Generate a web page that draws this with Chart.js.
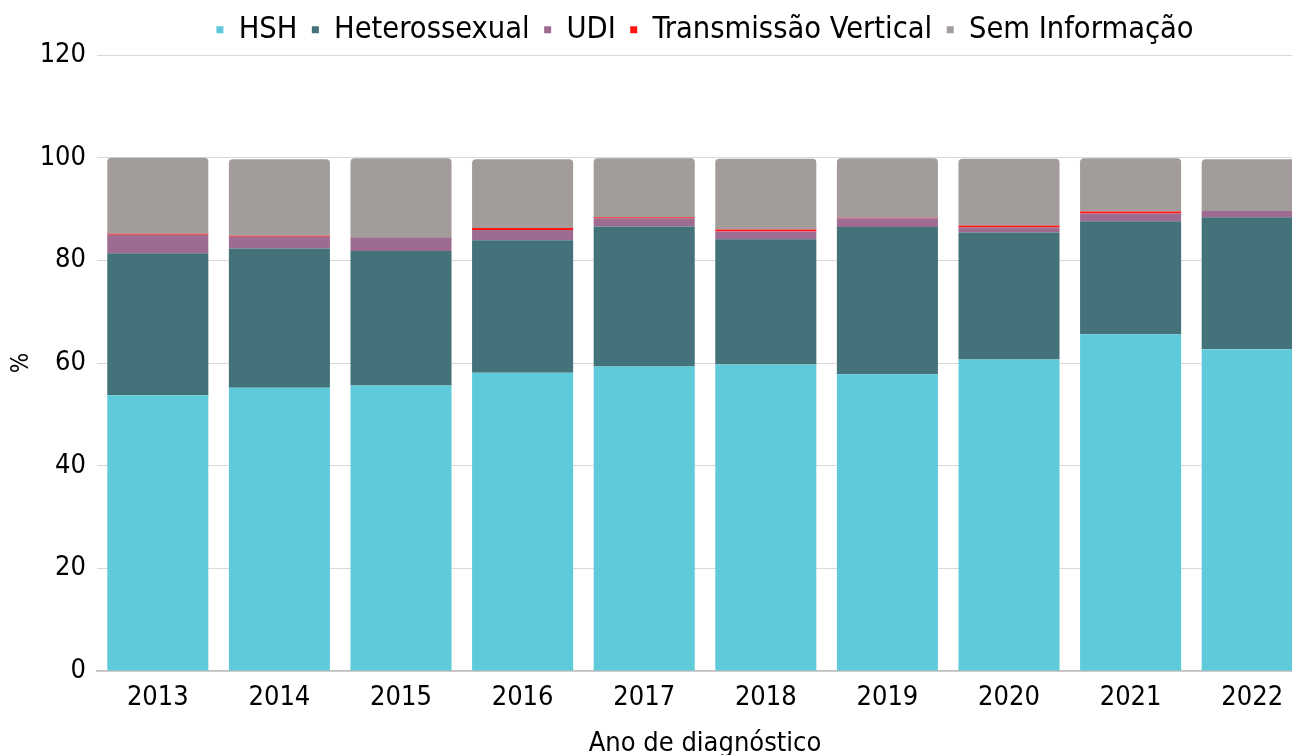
<!DOCTYPE html>
<html>
<head>
<meta charset="utf-8">
<script src="https://cdn.jsdelivr.net/npm/chart.js@4"></script>
<style>
  html, body { margin: 0; padding: 0; background: #fff; overflow: hidden; }
  #wrap { position: relative; width: 1320px; height: 755px; }
</style>
</head>
<body>
<div id="wrap"><canvas id="chart"></canvas></div>
<script>
const years = ["2013", "2014", "2015", "2016", "2017", "2018", "2019", "2020", "2021", "2022"];
const hsh = [53.7, 55.2, 55.6, 58.1, 59.3, 59.7, 57.8, 60.7, 65.6, 62.7];
const hetero = [27.7, 27.1, 26.2, 25.8, 27.3, 24.4, 28.7, 24.7, 22.0, 25.7];
const udi = [3.6, 2.3, 2.7, 2.0, 1.6, 1.5, 1.7, 1.0, 1.5, 1.2];
const vertical = [0.2, 0.2, 0, 0.4, 0.2, 0.4, 0.1, 0.4, 0.4, 0];
const semInfo = [14.8, 14.9, 15.4, 13.4, 11.5, 13.8, 11.6, 13.0, 10.4, 10.1];
const yTicks = [0, 20, 40, 60, 80, 100, 120];

const font = "'DejaVu Sans Condensed', 'Roboto', sans-serif";
Chart.defaults.font.family = font;
Chart.defaults.color = "#000";

const bar = (label, data, color, extra) => Object.assign({
  label: label,
  data: data,
  backgroundColor: color,
  borderWidth: 0,
  categoryPercentage: 0.831,
  barPercentage: 1
}, extra || {});

new Chart(document.getElementById("chart"), {
  type: "bar",
  data: {
    labels: years,
    datasets: [
      bar("HSH", hsh, "#5fcbda"),
      bar("Heterossexual", hetero, "#43727a"),
      bar("UDI", udi, "#9e6b91"),
      bar("Transmissão Vertical", vertical, "#ff1414"),
      bar("Sem Informação", semInfo, "#a29c9b", {
        borderRadius: { topLeft: 4, topRight: 4, bottomLeft: 0, bottomRight: 0 },
        borderSkipped: false
      })
    ]
  },
  options: {
    responsive: true,
    maintainAspectRatio: false,
    animation: false,
    layout: { padding: { top: 0, right: 7, left: 7, bottom: 0 } },
    plugins: {
      legend: {
        position: "top",
        fullSize: false,
        labels: {
          usePointStyle: true,
          pointStyle: "rect",
          boxWidth: 7,
          boxHeight: 7,
          padding: 14.5,
          font: { size: 30.5 }
        }
      },
      tooltip: { enabled: false }
    },
    scales: {
      x: {
        stacked: true,
        afterFit: (axis) => { axis.height = 84; },
        grid: { display: false, drawTicks: false },
        border: { display: true, color: "#bfbfbf", width: 1.5 },
        ticks: { font: { size: 27 }, padding: 11 },
        title: { display: true, text: "Ano de diagnóstico", font: { size: 27, lineHeight: 0.8 }, padding: { top: 0, bottom: 0 } }
      },
      y: {
        stacked: true,
        min: 0,
        max: 120,
        afterBuildTicks: (axis) => { axis.ticks = yTicks.map(v => ({ value: v })); },
        afterFit: (axis) => { axis.width = 90; },
        grid: { color: "#d9d9d9", lineWidth: 1, drawTicks: false },
        border: { display: false },
        ticks: { font: { size: 27 }, padding: 11 },
        title: { display: true, text: "%", font: { size: 24 }, padding: { top: 0, bottom: 0 } }
      }
    }
  }
});
</script>
</body>
</html>
